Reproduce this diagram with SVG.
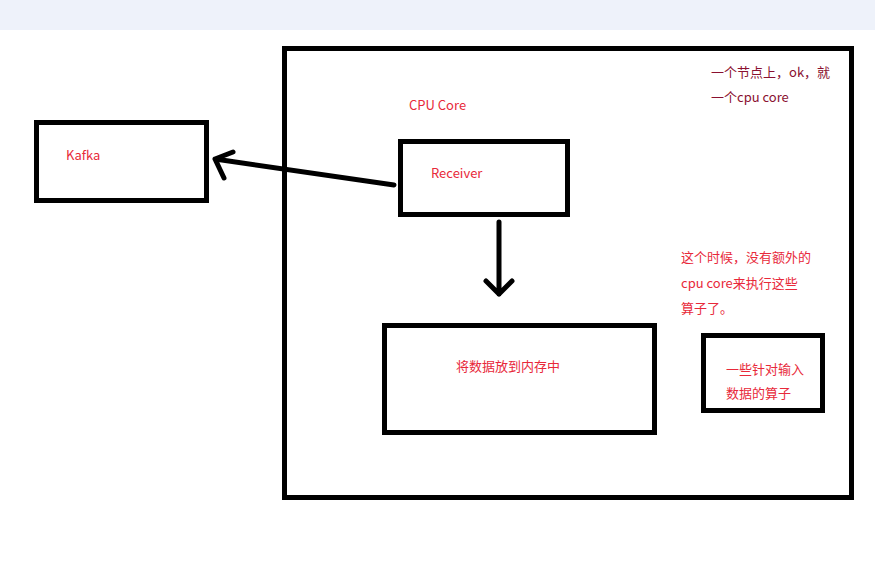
<svg xmlns="http://www.w3.org/2000/svg" width="875" height="561" viewBox="0 0 875 561">
<style>
.box{fill:none;stroke:#000;stroke-width:5}
.t{font-family:"Noto Sans CJK SC","Liberation Sans",sans-serif;font-size:13px;fill:#e8293a}
.d{fill:#8a1030}
.c{fill:none;stroke:#000;stroke-width:5;stroke-linecap:round;stroke-linejoin:round}
</style>
<rect x="0" y="0" width="875" height="30" fill="#eef2fa"/>
<g id="outer"><rect class="box" x="284.5" y="48.5" width="567" height="449"/>
<text class="t" x="409" y="110">CPU Core</text>
<text class="t d" x="711" y="77">一个节点上，ok，就</text>
<text class="t d" x="711" y="102">一个cpu core</text>
<text class="t" x="681" y="262">这个时候，没有额外的</text>
<text class="t" x="681" y="288">cpu core来执行这些</text>
<text class="t" x="681" y="313">算子了。</text>
</g>
<g id="kafka"><rect class="box" x="36.5" y="122.5" width="170" height="78"/>
<text class="t" x="66" y="160">Kafka</text></g>
<g id="receiver"><rect class="box" x="400.5" y="141.5" width="167" height="73"/>
<text class="t" x="431" y="178">Receiver</text></g>
<g id="memory"><rect class="box" x="384.5" y="325.5" width="270" height="107"/>
<text class="t" x="456" y="371">将数据放到内存中</text></g>
<g id="operators"><rect class="box" x="703.5" y="335.5" width="119" height="75"/>
<text class="t" x="726" y="374">一些针对输入</text>
<text class="t" x="726" y="398">数据的算子</text></g>
<g id="connectors">
<path class="c" d="M394 185 L215 159 M233 152 L215 159 L224 178"/>
<path class="c" d="M499 222 L499 294 M486 281 L499 294 L512 281"/>
</g>
</svg>
